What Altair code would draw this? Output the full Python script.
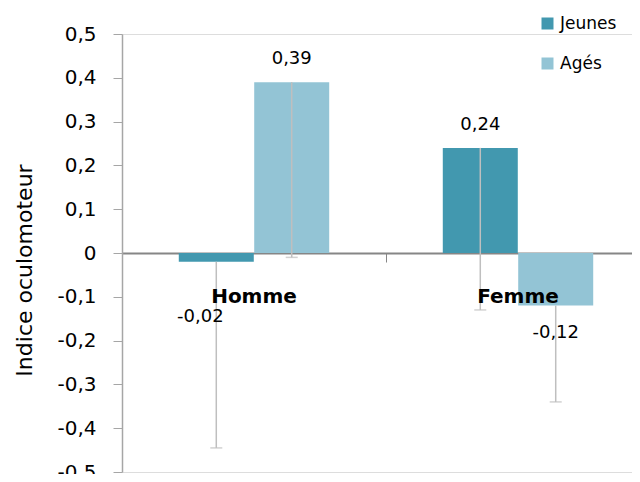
import altair as alt
import pandas as pd

categories = ["Homme", "Homme", "Femme", "Femme"]
groups = ["Jeunes", "Agés", "Jeunes", "Agés"]
values = [-0.02, 0.39, 0.24, -0.12]
err_low = [-0.445, -0.01, -0.13, -0.34]
y_ticks = [-0.5, -0.4, -0.3, -0.2, -0.1, 0.0, 0.1, 0.2, 0.3, 0.4, 0.5]
cat_order = ["Homme", "Femme"]
grp_order = ["Jeunes", "Agés"]
colors = ["#4298AF", "#93C4D5"]


def fmt(v):
    return f"{v:.2f}".replace(".", ",")


df = pd.DataFrame({
    "cat": categories,
    "grp": groups,
    "value": values,
    "low": err_low,
    "label": [fmt(v) for v in values],
})
cats_df = pd.DataFrame({"cat": cat_order, "pos": [-0.1, -0.1]})

FONT = "DejaVu Sans"
xscale = alt.Scale(domain=cat_order, range=[0, 528], paddingInner=0, paddingOuter=0)
xoff = alt.XOffset("grp:N", scale=alt.Scale(domain=grp_order, paddingOuter=0.75, paddingInner=0))
yscale = alt.Scale(domain=[-0.5, 0.5], nice=False, zero=False)

base = alt.Chart(df)

bars = base.mark_bar(size=75).encode(
    x=alt.X("cat:N", scale=xscale, sort=cat_order,
            axis=alt.Axis(title=None, labels=False, bandPosition=0, offset=-219,
                          domainColor="#868686", domainWidth=2, tickColor="#868686",
                          tickSize=9, tickWidth=1)),
    xOffset=xoff,
    y=alt.Y("value:Q", scale=yscale,
            axis=alt.Axis(title="Indice oculomoteur", values=y_ticks, grid=False,
                          labelExpr="datum.value == 0 ? '0' : replace(replace(format(datum.value, '.1f'), '.', ','), '\u2212', '-')",
                          labelFont=FONT, labelFontSize=20, labelColor="#000000",
                          labelPadding=17, tickSize=9, tickColor="#A6A6A6",
                          domainColor="#A6A6A6", domainWidth=1.5, titleFont=FONT,
                          titleFontSize=22, titleFontWeight="normal", titleColor="#000000",
                          titleBaseline="alphabetic", titleAngle=270,
                          titleX=-91, titleY=236)),
    color=alt.Color("grp:N", scale=alt.Scale(domain=grp_order, range=colors),
                    legend=alt.Legend(title=None, orient="none", legendX=417, legendY=-19,
                                      symbolType="square", symbolSize=144,
                                      symbolStrokeWidth=0, labelFont=FONT,
                                      labelFontSize=17, labelColor="#000000",
                                      rowPadding=22, labelOffset=4, padding=0)),
)

rules = base.mark_rule(color="#BFBFBF", strokeWidth=1.5).encode(
    x=alt.X("cat:N", scale=xscale, sort=cat_order),
    xOffset=xoff,
    y=alt.Y("value:Q", scale=yscale),
    y2="low:Q",
)

caps = base.mark_tick(color="#BFBFBF", size=12, thickness=1.5, orient="horizontal").encode(
    x=alt.X("cat:N", scale=xscale, sort=cat_order),
    xOffset=xoff,
    y=alt.Y("low:Q", scale=yscale),
)


def label_layer(filt, dy, dx=0):
    return base.transform_filter(filt).mark_text(
        font=FONT, fontSize=18, color="#000000", dy=dy, dx=dx, baseline="middle"
    ).encode(
        x=alt.X("cat:N", scale=xscale, sort=cat_order),
        xOffset=xoff,
        y=alt.Y("value:Q", scale=yscale),
        text="label:N",
    )


lab_pos = label_layer("datum.value >= 0", -23)
lab_neg = label_layer("datum.value < 0 && datum.cat == 'Femme'", 27)
lab_neg2 = label_layer("datum.value < 0 && datum.cat == 'Homme'", 55, -16)

cat_labels = alt.Chart(cats_df).mark_text(
    font=FONT, fontSize=20, fontWeight="bold", color="#000000", baseline="middle"
).encode(
    x=alt.X("cat:N", scale=xscale, sort=cat_order),
    y=alt.Y("pos:Q", scale=yscale),
    text="cat:N",
)

chart = alt.layer(bars, rules, caps, lab_pos, lab_neg, lab_neg2, cat_labels).properties(
    width=510, height=438,
    autosize=alt.AutoSizeParams(type="none"),
    padding={"left": 114, "top": 26, "right": 0, "bottom": 2},
).configure_view(stroke=None).configure(background="#ffffff")

chart.save("out.html", embed_options={"renderer": "svg", "actions": False})
